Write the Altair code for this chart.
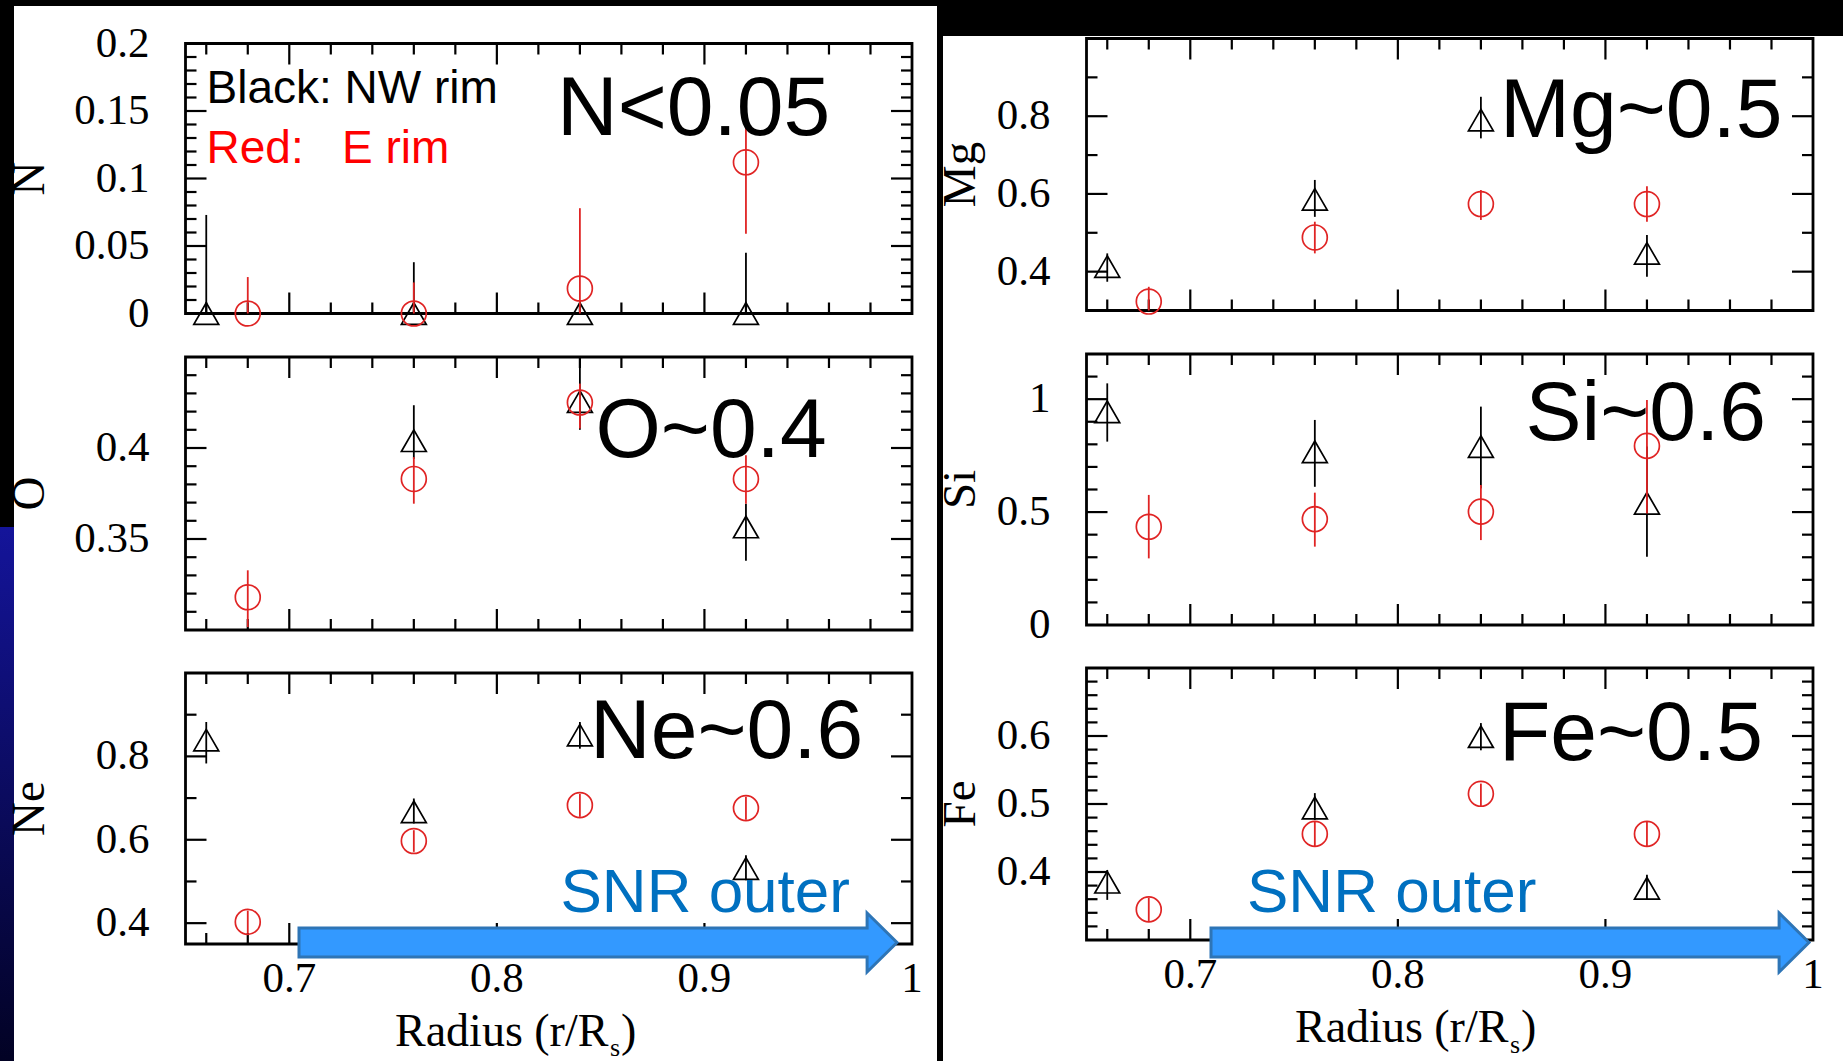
import altair as alt
import pandas as pd

W, H = 1843, 1061

# ---------------- data: abundance vs. radius ----------------
X_DOMAIN = [0.65, 1.0]
X_LABELS = [0.7, 0.8, 0.9, 1.0]

R_NW = [0.66, 0.76, 0.84, 0.92]      # NW rim (black triangles)
R_E = [0.68, 0.76, 0.84, 0.92]       # E rim (red circles)
R_NW_O = [0.76, 0.84, 0.92]

N_nw = [0.0, 0.0, 0.0, 0.0]
N_nw_lo = [0.0, 0.0, 0.0, 0.0]
N_nw_hi = [0.073, 0.038, 0.01, 0.045]
N_e = [0.0, 0.0, 0.0185, 0.112]
N_e_lo = [0.0, 0.0, 0.0, 0.059]
N_e_hi = [0.027, 0.023, 0.078, 0.165]

O_nw = [0.404, 0.4255, 0.3566]
O_nw_lo = [0.394, 0.410, 0.338]
O_nw_hi = [0.4235, 0.47, 0.3694]
O_e = [0.318, 0.383, 0.425, 0.383]
O_e_lo = [0.3016, 0.3694, 0.4107, 0.3694]
O_e_hi = [0.3328, 0.395, 0.4354, 0.396]

Ne_nw = [0.839, 0.667, 0.851, 0.531]
Ne_nw_lo = [0.783, 0.639, 0.8185, 0.503]
Ne_nw_hi = [0.8825, 0.699, 0.8825, 0.563]
Ne_e = [0.403, 0.597, 0.683, 0.676]
Ne_e_lo = [0.375, 0.571, 0.655, 0.648]
Ne_e_hi = [0.43, 0.623, 0.71, 0.703]

Mg_nw = [0.413, 0.586, 0.79, 0.447]
Mg_nw_lo = [0.374, 0.541, 0.743, 0.387]
Mg_nw_hi = [0.447, 0.636, 0.85, 0.494]
Mg_e = [0.323, 0.488, 0.574, 0.574]
Mg_e_lo = [0.289, 0.447, 0.533, 0.5285]
Mg_e_hi = [0.361, 0.5285, 0.61, 0.62]

Si_nw = [0.944, 0.767, 0.79, 0.539]
Si_nw_lo = [0.812, 0.612, 0.605, 0.302]
Si_nw_hi = [1.07, 0.908, 0.967, 0.79]
Si_e = [0.435, 0.469, 0.502, 0.793]
Si_e_lo = [0.295, 0.347, 0.376, 0.494]
Si_e_hi = [0.576, 0.586, 0.62, 0.996]

Fe_nw = [0.385, 0.494, 0.599, 0.376]
Fe_nw_lo = [0.359, 0.4765, 0.579, 0.359]
Fe_nw_hi = [0.403, 0.516, 0.619, 0.396]
Fe_e = [0.345, 0.456, 0.515, 0.456]
Fe_e_lo = [0.328, 0.437, 0.496, 0.437]
Fe_e_hi = [0.362, 0.474, 0.530, 0.474]

# y tick labels per element
N_labels = [0, 0.05, 0.1, 0.15, 0.2]
O_labels = [0.35, 0.4]
Ne_labels = [0.4, 0.6, 0.8]
Mg_labels = [0.4, 0.6, 0.8]
Si_labels = [0, 0.5, 1.0]
Fe_labels = [0.4, 0.5, 0.6]

RED = "#e02424"
SERIF = "Liberation Serif"
SANS = "Liberation Sans"
MAJOR, MINOR = 21, 11
TICK_FONT = 43

LEFT = (185.5, 912.0)
RIGHT = (1086.5, 1813.0)


def split_ticks(lo, hi, major_step, minor_step):
    """Major/minor tick positions strictly inside (lo, hi)."""
    start = round(-(-lo // major_step) * major_step, 6)
    majors = [round(start + i * major_step, 6) for i in range(int((hi - start) / major_step + 1e-6) + 1)]
    majors = [v for v in majors if lo + 1e-9 < v < hi - 1e-9]
    start_m = round(-(-lo // minor_step) * minor_step, 6)
    minors = [round(start_m + i * minor_step, 6) for i in range(int((hi - start_m) / minor_step + 1e-6) + 1)]
    minors = [v for v in minors if lo + 1e-9 < v < hi - 1e-9 and all(abs(v - m) > 1e-6 for m in majors)]
    return majors, minors


PANELS = [
    dict(name="N", dom=[0.0, 0.2], labels=N_labels, major=0.05, minor=0.01, xs=LEFT, ys=(43.5, 313.5),
         nw=(R_NW, N_nw, N_nw_lo, N_nw_hi), e=(R_E, N_e, N_e_lo, N_e_hi), xlab=False, tx=30),
    dict(name="O", dom=[0.3, 0.45], labels=O_labels, major=0.05, minor=0.01, xs=LEFT, ys=(357.0, 630.0),
         nw=(R_NW_O, O_nw, O_nw_lo, O_nw_hi), e=(R_E, O_e, O_e_lo, O_e_hi), xlab=False, tx=30),
    dict(name="Ne", dom=[0.35, 1.0], labels=Ne_labels, major=0.2, minor=0.1, xs=LEFT, ys=(673.0, 944.0),
         nw=(R_NW, Ne_nw, Ne_nw_lo, Ne_nw_hi), e=(R_E, Ne_e, Ne_e_lo, Ne_e_hi), xlab=True, tx=30),
    dict(name="Mg", dom=[0.3, 1.0], labels=Mg_labels, major=0.2, minor=0.1, xs=RIGHT, ys=(38.5, 310.5),
         nw=(R_NW, Mg_nw, Mg_nw_lo, Mg_nw_hi), e=(R_E, Mg_e, Mg_e_lo, Mg_e_hi), xlab=False, tx=961),
    dict(name="Si", dom=[0.0, 1.2], labels=Si_labels, major=0.5, minor=0.1, xs=RIGHT, ys=(354.0, 625.0),
         nw=(R_NW, Si_nw, Si_nw_lo, Si_nw_hi), e=(R_E, Si_e, Si_e_lo, Si_e_hi), xlab=False, tx=961),
    dict(name="Fe", dom=[0.3, 0.7], labels=Fe_labels, major=0.1, minor=0.02, xs=RIGHT, ys=(668.0, 940.0),
         nw=(R_NW, Fe_nw, Fe_nw_lo, Fe_nw_hi), e=(R_E, Fe_e, Fe_e_lo, Fe_e_hi), xlab=True, tx=961),
]


def panel(p):
    x0, x1 = p["xs"]
    y0, y1 = p["ys"]
    lo, hi = p["dom"]
    xs = alt.Scale(domain=X_DOMAIN, range=[x0, x1], nice=False, zero=False, clamp=True)
    ys = alt.Scale(domain=p["dom"], range=[y1, y0], nice=False, zero=False, clamp=True)

    def X(f):
        return alt.X(f, type="quantitative", scale=xs, axis=None)

    def Y(f):
        return alt.Y(f, type="quantitative", scale=ys, axis=None)

    frame = alt.Chart(pd.DataFrame({"a": [X_DOMAIN[0]], "b": [X_DOMAIN[1]], "c": [lo], "d": [hi]})).mark_rect(
        fillOpacity=0, stroke="black", strokeWidth=2.8
    ).encode(x=X("a"), x2="b:Q", y=Y("c"), y2="d:Q")

    ymaj, ymin = split_ticks(lo, hi, p["major"], p["minor"])
    xmaj, xmin = split_ticks(X_DOMAIN[0], X_DOMAIN[1], 0.1, 0.02)

    # inward tick marks on all four sides
    def side_y(vals, edge, length):
        df = pd.DataFrame({"v": vals, "e": [edge] * len(vals)})
        return alt.Chart(df).mark_rule(x2Offset=length, color="black", strokeWidth=2.2).encode(
            x=X("e"), x2="e:Q", y=Y("v"))

    def side_x(vals, edge, length):
        df = pd.DataFrame({"v": vals, "e": [edge] * len(vals)})
        return alt.Chart(df).mark_rule(y2Offset=length, color="black", strokeWidth=2.2).encode(
            x=X("v"), y=Y("e"), y2="e:Q")

    ticks = [
        side_y(ymaj, X_DOMAIN[0], MAJOR), side_y(ymin, X_DOMAIN[0], MINOR),
        side_y(ymaj, X_DOMAIN[1], -MAJOR), side_y(ymin, X_DOMAIN[1], -MINOR),
        side_x(xmaj, lo, -MAJOR), side_x(xmin, lo, -MINOR),
        side_x(xmaj, hi, MAJOR), side_x(xmin, hi, MINOR),
    ]

    # tick labels, placed through the panel scales
    ylab = alt.Chart(pd.DataFrame({"v": p["labels"]})).mark_text(
        font=SERIF, fontSize=TICK_FONT, color="black", align="right", baseline="middle"
    ).encode(y=Y("v"), x=alt.value(x0 - 36), text=alt.Text("v:Q", format="~g"))

    ytitle = alt.Chart(pd.DataFrame({"k": [0]})).mark_text(
        text=p["name"], font=SERIF, fontSize=47, color="black", angle=270, align="center", baseline="middle"
    ).encode(x=alt.value(p["tx"]), y=alt.value((y0 + y1) / 2))

    extra = [ylab, ytitle]
    if p["xlab"]:
        xlab = alt.Chart(pd.DataFrame({"v": X_LABELS})).mark_text(
            font=SERIF, fontSize=TICK_FONT, color="black", align="center", baseline="alphabetic"
        ).encode(x=X("v"), y=alt.value(y1 + 48), text=alt.Text("v:Q", format="~g"))
        extra.append(xlab)

    def bars(series, color):
        r, v, l, h = series
        df = pd.DataFrame({"r": r, "lo": l, "hi": h})
        return alt.Chart(df).mark_rule(color=color, strokeWidth=1.8).encode(
            x=X("r"), y=Y("lo"), y2="hi:Q")

    r, v, _, _ = p["nw"]
    nw_pts = alt.Chart(pd.DataFrame({"r": r, "v": v})).mark_point(
        shape="triangle-up", size=620, filled=False, color="black", strokeWidth=1.7, opacity=1
    ).encode(x=X("r"), y=Y("v"))

    r, v, _, _ = p["e"]
    e_pts = alt.Chart(pd.DataFrame({"r": r, "v": v})).mark_point(
        shape="circle", size=620, filled=False, color=RED, strokeWidth=1.7, opacity=1
    ).encode(x=X("r"), y=Y("v"))

    return alt.layer(frame, *ticks, *extra, bars(p["nw"], "black"), nw_pts, bars(p["e"], RED), e_pts)


one = pd.DataFrame({"k": [0]})


def box(x, x2, y, y2, color):
    return alt.Chart(one).mark_rect(color=color).encode(
        x=alt.value(x), x2=alt.value(x2), y=alt.value(y), y2=alt.value(y2))


def label(text, x, y, size, color="black", font=SANS):
    return alt.Chart(one).mark_text(
        text=text, font=font, fontSize=size, color=color, align="left", baseline="alphabetic"
    ).encode(x=alt.value(x), y=alt.value(y))


edge = alt.Chart(one).mark_rect(
    color=alt.LinearGradient(
        gradient="linear",
        stops=[alt.GradientStop(color="#14149a", offset=0), alt.GradientStop(color="#020224", offset=1)],
        x1=0, x2=0, y1=0, y2=1,
    )
).encode(x=alt.value(0), x2=alt.value(14), y=alt.value(527), y2=alt.value(H))

backdrop = [
    edge,
    box(14, 937, 6, H, "white"),
    box(943, W, 36, H, "white"),
]

ARROW = "M-1,-0.0485L0.9,-0.0485L0.9,-0.0987L1,0L0.9,0.0987L0.9,0.0485L-1,0.0485Z"


def arrow(cx, cy):
    return alt.Chart(one).mark_point(
        shape=ARROW, size=598 * 598, filled=True, fill="#3399ff", stroke="#2e75b6", strokeWidth=3, opacity=1
    ).encode(x=alt.value(cx), y=alt.value(cy))


NB = "\u00a0"
notes = [
    label("Black: NW rim", 206.5, 103.3, 46),
    label("Red:" + NB * 3 + "E rim", 206.5, 162.7, 46, color="#ff0000"),
    label("N<0.05", 557, 135, 84),
    label("O~0.4", 595.5, 456.7, 84),
    label("Ne~0.6", 590, 758.3, 84),
    label("Mg~0.5", 1500, 136.7, 84),
    label("Si~0.6", 1525.5, 440, 84),
    label("Fe~0.5", 1499, 760, 84),
    arrow(598, 942.5),
    arrow(1510, 942.5),
    label("SNR outer", 560.5, 912, 62, color="#0070c0"),
    label("SNR outer", 1247, 912, 62, color="#0070c0"),
    label("Radius (r/R", 395, 1046, 46, font=SERIF),
    label("s", 610, 1056, 26, font=SERIF),
    label(")", 621, 1046, 46, font=SERIF),
    label("Radius (r/R", 1295, 1042, 46, font=SERIF),
    label("s", 1510, 1053, 26, font=SERIF),
    label(")", 1521, 1042, 46, font=SERIF),
]

chart = (
    alt.layer(*backdrop, *[panel(p) for p in PANELS], *notes)
    .resolve_scale(x="independent", y="independent")
    .properties(width=W, height=H, background="#000000", padding=0,
                autosize=alt.AutoSizeParams(type="none"))
    .configure_view(strokeWidth=0)
)

chart.save("out.html", embed_options={"renderer": "svg", "actions": False})
